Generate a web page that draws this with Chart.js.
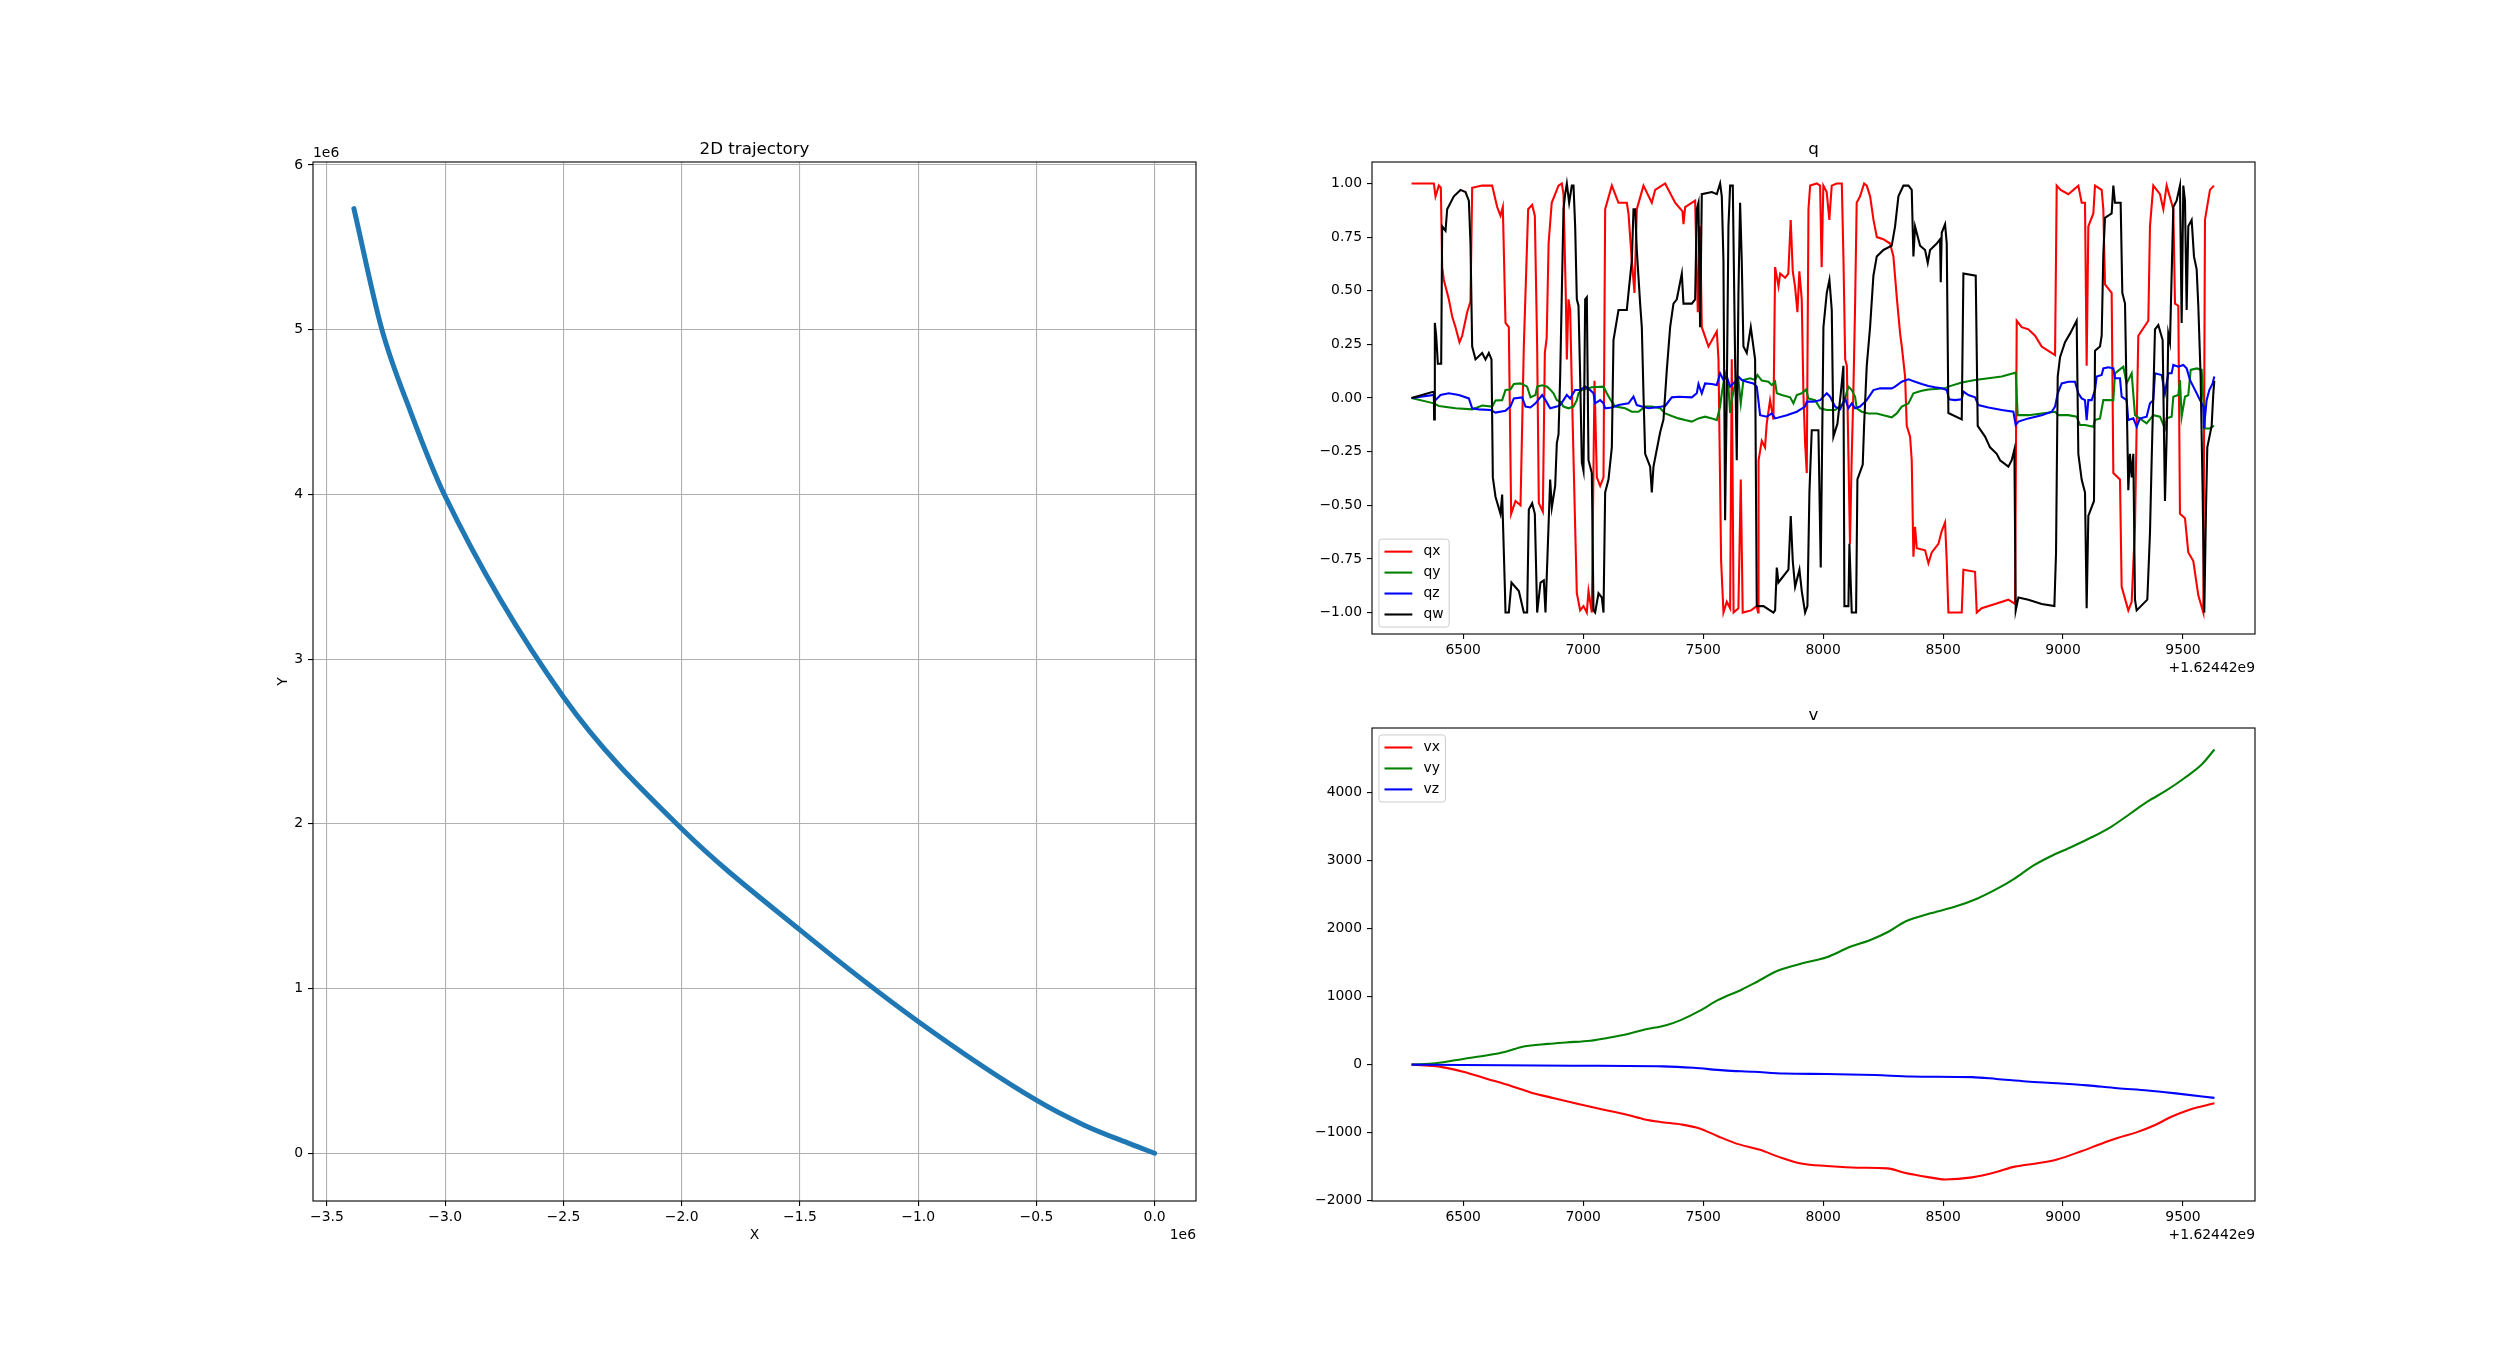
<!DOCTYPE html>
<html>
<head>
<meta charset="utf-8">
<title>2D trajectory, q, v</title>
<script src="https://cdn.jsdelivr.net/npm/chart.js@4.4.1/dist/chart.umd.min.js"></script>
<style>
  html, body { margin: 0; padding: 0; background: #fff; }
  #fig { position: relative; width: 2505px; height: 1349px; overflow: hidden; background: #fff; }
  .panel { position: absolute; }
</style>
</head>
<body>
<div id="fig">
  <div class="panel" id="trajBox"><canvas id="trajChart"></canvas></div>
  <div class="panel" id="qBox"><canvas id="qChart"></canvas></div>
  <div class="panel" id="vBox"><canvas id="vChart"></canvas></div>
</div>
<script>
// time values below are seconds minus 1.62442e9 (the axis offset text)
const TIME_OFFSET_TEXT = '+1.62442e9';

// 2D trajectory, [x, y] in metres
const trajectory = [
  [-3386000, 5735000], [-3267500, 5000000], [-3146000, 4500000], [-3004000, 4000000],
  [-2500000, 2770000], [-2000000, 1970000], [-1500000, 1356000], [-1000000, 800000],
  [-500000, 322000], [-300000, 172000], [-100000, 55000], [0, 0]
];

// quaternion components, [t, value]
const qx = [
  [6284.7,1.00],[6377.7,1.00],[6384.7,0.94],[6398.6,0.99],[6406.9,0.98],[6412.5,0.61],[6419.4,0.55],[6433.3,0.49],
  [6440.2,0.46],[6454.1,0.38],[6468,0.33],[6484.7,0.26],[6495.8,0.29],[6516.6,0.40],[6530.5,0.45],[6537.5,0.98],
  [6579.1,0.99],[6620.8,0.99],[6641.6,0.89],[6655.5,0.85],[6665.2,0.89],[6676.4,0.35],[6690.2,0.33],[6700,-0.54],
  [6718,-0.48],[6738.9,-0.50],[6752.7,0.24],[6770.8,0.88],[6787.5,0.90],[6798.6,0.85],[6808.3,0.24],[6815.2,-0.49],
  [6832,-0.53],[6840.3,0.21],[6848,0.28],[6856,0.72],[6869,0.91],[6897.3,0.99],[6911.1,1.00],[6918.1,0.95],
  [6927.8,0.47],[6932,0.18],[6938.9,0.46],[6945.9,0.41],[6952.8,0.05],[6966.7,-0.60],[6973.6,-0.91],[6987.5,-0.99],
  [7001.4,-0.97],[7015.3,-1.00],[7022.3,-0.90],[7036.1,-1.00],[7047.3,0.08],[7057,-0.37],[7070.9,-0.41],[7084.8,-0.37],
  [7091.7,0.88],[7119.5,0.99],[7147.3,0.91],[7182,0.91],[7189,0.86],[7202.8,0.64],[7214,0.49],[7223.6,0.88],
  [7251.4,0.99],[7286.1,0.91],[7300,0.97],[7341.7,1.00],[7383.4,0.91],[7414,0.87],[7418.1,0.81],[7425,0.89],
  [7466.7,0.92],[7477.8,0.40],[7487.5,0.80],[7494.5,0.33],[7522.3,0.24],[7557,0.31],[7564,0.18],[7575,-0.76],
  [7584.8,-1.00],[7598.6,-0.95],[7612.5,-0.98],[7619.4,0.18],[7627,-1.00],[7647,-0.98],[7656.9,-0.38],[7665,-1.00],
  [7700,-0.99],[7723,-0.97],[7729,-1.00],[7731,-0.29],[7744.4,-0.20],[7758,-0.23],[7765,-0.12],[7779,-0.01],
  [7793,-0.10],[7800,0.61],[7814,0.52],[7821,0.58],[7841.6,0.56],[7855,0.58],[7865,0.83],[7873.6,0.59],
  [7883,0.52],[7893,0.40],[7901,0.59],[7911,0.46],[7918,0.02],[7925,-0.21],[7932,-0.35],[7939,0.88],
  [7946,0.99],[7973.6,1.00],[7987.5,0.99],[7994,0.61],[8001,0.99],[8015,0.96],[8026,0.83],[8036,0.99],
  [8057,1.00],[8078,1.00],[8085,0.64],[8092,0.18],[8099,0.15],[8106,-0.29],[8112,-0.68],[8119,-0.29],
  [8126,0.02],[8133,0.41],[8140,0.91],[8154,0.94],[8171,1.00],[8182,0.99],[8196,0.94],[8210,0.83],
  [8224,0.75],[8251,0.74],[8279,0.72],[8293,0.66],[8307,0.47],[8321,0.30],[8328,0.24],[8341.7,0.10],
  [8348.6,-0.13],[8362.5,-0.18],[8369.4,-0.29],[8376.4,-0.74],[8383.3,-0.60],[8390.3,-0.70],[8425,-0.71],[8438.9,-0.77],
  [8452.8,-0.72],[8480.6,-0.68],[8494.4,-0.62],[8508.3,-0.58],[8515.3,-0.76],[8522.2,-1.00],[8577.8,-1.00],[8584.7,-0.80],
  [8633.3,-0.81],[8640.3,-1.00],[8661,-0.98],[8716.7,-0.96],[8772.2,-0.94],[8800,-0.96],[8807,0.36],[8827.8,0.33],
  [8855.6,0.32],[8883.3,0.29],[8911,0.24],[8938.9,0.22],[8966.7,0.20],[8973.6,0.99],[8990,0.97],[9022,0.95],
  [9063.7,0.99],[9077.6,0.91],[9091.5,0.91],[9098.4,0.15],[9105.4,0.80],[9126.2,0.86],[9133.2,0.99],[9161,0.97],
  [9167.9,0.88],[9174.8,0.53],[9202.6,0.49],[9209.6,-0.35],[9237.3,-0.38],[9244.3,-0.88],[9272,-0.99],[9286,-0.95],
  [9299.8,-0.60],[9306.8,-0.13],[9313.7,0.29],[9355.4,0.36],[9362.3,0.80],[9376.2,0.99],[9404,0.95],[9417.9,0.88],
  [9431.8,0.99],[9459.6,0.88],[9466.5,0.44],[9480.4,0.43],[9487.3,-0.54],[9508.2,-0.56],[9522,-0.72],[9542.9,-0.76],
  [9563.7,-0.92],[9584.6,-1.00],[9591.5,0.83],[9612.3,0.97],[9629,0.99]
];
const qy = [
  [6284.7,0],[6377.7,-0.025],[6398.6,-0.037],[6468,-0.048],[6537.5,-0.053],[6579,-0.035],[6620.8,-0.04],[6634.7,-0.012],
  [6662.5,-0.01],[6676.4,0.037],[6697,0.04],[6711,0.065],[6738.9,0.068],[6766.6,0.053],[6780.5,0.003],[6801.3,0.014],
  [6808.3,0.053],[6829,0.059],[6850,0.053],[6862,0.04],[6876.4,0.022],[6890.3,-0.01],[6904.2,-0.017],[6918,-0.04],
  [6938.9,-0.048],[6959.8,-0.04],[6973.6,-0.01],[6980.6,0.022],[6994.5,0.037],[7036,0.05],[7084.8,0.053],[7098.6,0.022],
  [7112.5,-0.006],[7133.3,-0.04],[7175,-0.048],[7202.8,-0.064],[7230.6,-0.064],[7258.4,-0.04],[7286,-0.04],[7320.9,-0.048],
  [7341.7,-0.072],[7369.4,-0.084],[7397.2,-0.095],[7425,-0.103],[7452.8,-0.11],[7480.6,-0.095],[7508.3,-0.087],[7536,-0.095],
  [7557,-0.103],[7570.8,-0.04],[7577.7,0.022],[7591.6,0.115],[7605.5,0.053],[7612.5,-0.07],[7619.4,-0.01],[7633.3,0.068],
  [7647.2,0.084],[7656.9,-0.025],[7668,0.084],[7695.8,0.092],[7716.6,0.084],[7726.4,0.107],[7744.4,0.081],[7772.2,0.076],
  [7786,0.06],[7800,0.076],[7806.9,0.022],[7827.7,0.014],[7862.5,0.003],[7876.4,-0.025],[7890.3,0.014],[7911.1,0.022],
  [7929.1,0.04],[7938.9,-0.002],[7966.6,-0.01],[7987.5,-0.048],[8015.3,-0.056],[8050,-0.056],[8084.7,-0.025],[8105.5,0.053],
  [8119.4,0.037],[8133.3,0.006],[8140.3,-0.048],[8161.1,-0.064],[8188.9,-0.072],[8223.6,-0.072],[8251.4,-0.08],[8286,-0.09],
  [8306.9,-0.072],[8327.8,-0.04],[8355.6,-0.025],[8376.4,0.022],[8411,0.034],[8439,0.04],[8508.3,0.045],[8522,0.053],
  [8577.8,0.072],[8633.3,0.084],[8688.9,0.092],[8744.4,0.1],[8793,0.115],[8802.8,0.118],[8811,-0.08],[8855.6,-0.08],
  [8911,-0.072],[8966.7,-0.064],[8980.6,-0.08],[9022,-0.08],[9056.8,-0.087],[9070.7,-0.126],[9091.5,-0.126],[9126.2,-0.134],
  [9133.2,-0.103],[9154,-0.095],[9167.9,-0.01],[9209.6,-0.01],[9216.5,0.115],[9251.2,0.146],[9265,0.068],[9286,0.115],
  [9299.8,-0.08],[9348.5,-0.118],[9376.2,-0.08],[9404,-0.087],[9424.8,-0.142],[9431.8,-0.095],[9452.6,-0.087],[9459.6,0.006],
  [9480.4,0.014],[9487.3,0.084],[9494.3,-0.087],[9508.2,0.006],[9522,0.014],[9531.8,0.131],[9556.8,0.138],[9577.6,0.131],
  [9584.6,-0.01],[9591.5,-0.142],[9612.3,-0.142],[9629,-0.129]
];
const qz = [
  [6284.7,0],[6377.7,0.014],[6384.7,-0.01],[6405.5,0.014],[6440,0.022],[6482,0.014],[6523.6,-0.002],[6537.5,-0.048],
  [6565,-0.053],[6614,-0.056],[6634.7,-0.068],[6676.4,-0.059],[6697,-0.04],[6711,-0.002],[6745.8,0.003],[6759.7,-0.04],
  [6780.5,-0.044],[6801.3,-0.025],[6829,0.014],[6843,-0.01],[6862.5,-0.048],[6890.3,-0.04],[6904.2,-0.033],[6918.1,-0.01],
  [6932,0.014],[6945.9,-0.002],[6966.7,0.037],[6987.5,0.037],[7008.4,0.053],[7029.2,0.037],[7043.1,0.022],[7050,-0.025],
  [7070.9,-0.01],[7084.8,-0.025],[7091.7,-0.048],[7119.5,-0.044],[7147.3,-0.033],[7189,-0.025],[7209.8,0.006],[7223.6,-0.033],
  [7244.5,-0.04],[7272.2,-0.048],[7300,-0.044],[7327.8,-0.04],[7341.7,-0.037],[7369.4,0.003],[7397.2,0.006],[7452.8,0.003],
  [7473.6,0.022],[7480.6,0.065],[7494.5,0.022],[7508.3,0.068],[7536.1,0.065],[7557,0.06],[7570.8,0.115],[7584.7,0.084],
  [7598.6,0.1],[7612.5,0.053],[7633.3,0.076],[7647.2,0.1],[7661,0.084],[7681.9,0.076],[7709.7,0.068],[7723.6,0.053],
  [7737.5,-0.08],[7765.2,-0.087],[7786,-0.072],[7800,-0.095],[7848.6,-0.08],[7890.3,-0.064],[7925,-0.04],[7932,-0.017],
  [7959.7,-0.017],[7987.5,-0.01],[8015.3,0.022],[8029.1,0.006],[8050,-0.04],[8070.8,-0.053],[8091.7,-0.002],[8105.5,-0.048],
  [8119.4,-0.025],[8133.3,-0.048],[8154.1,-0.04],[8181.9,-0.01],[8209.7,0.037],[8237.5,0.045],[8286.1,0.045],[8300,0.053],
  [8327.8,0.076],[8355.6,0.087],[8383.3,0.076],[8411.1,0.065],[8438.9,0.056],[8466.7,0.05],[8494.4,0.045],[8515.3,0.037],
  [8525,-0.006],[8550,-0.01],[8577.8,-0.006],[8584.7,0.03],[8605.6,0.014],[8633.3,0.003],[8647.2,-0.033],[8688.9,-0.044],
  [8744.4,-0.056],[8793,-0.064],[8802.8,-0.126],[8813.9,-0.11],[8855.6,-0.095],[8911.1,-0.08],[8952.8,-0.064],[8966.7,-0.04],
  [8977.8,0.022],[8994.4,0.068],[9022.2,0.076],[9049.8,0.076],[9063.7,0.022],[9077.6,-0.002],[9091.5,-0.01],[9098.4,-0.103],
  [9105.4,-0.01],[9119.3,-0.01],[9133.2,0.037],[9140.1,0.1],[9161,0.107],[9167.9,0.138],[9188.7,0.143],[9209.6,0.138],
  [9216.5,0.092],[9237.3,0.092],[9244.3,0.006],[9265.1,-0.01],[9272,-0.103],[9292.9,-0.095],[9306.8,-0.134],[9320.7,-0.095],
  [9348.4,-0.087],[9362.3,-0.025],[9376.2,-0.01],[9383.2,0.115],[9411,0.107],[9424.8,0.022],[9438.7,0.115],[9452.6,0.115],
  [9459.6,0.154],[9480.4,0.146],[9501.2,0.154],[9515.1,0.138],[9529,0.084],[9542.9,0.053],[9556.8,0.022],[9570.7,-0.01],
  [9584.6,-0.04],[9587.3,-0.142],[9598.4,-0.01],[9609.6,0.037],[9623.4,0.068],[9630.4,0.1]
];
const qw = [
  [6284.7,0.0],[6377.7,0.03],[6379,-0.10],[6381.9,0.35],[6387.5,0.29],[6394.4,0.16],[6408.3,0.16],[6412.5,0.80],
  [6426.4,0.78],[6433.3,0.88],[6461.1,0.94],[6488.9,0.97],[6509.7,0.96],[6523.6,0.92],[6530.5,0.72],[6537.5,0.24],
  [6551.4,0.18],[6579.1,0.21],[6593,0.18],[6606.9,0.21],[6618,0.18],[6623.6,-0.37],[6634.7,-0.46],[6655.5,-0.54],
  [6662.5,-0.45],[6673.6,-0.88],[6676.4,-1.00],[6690.2,-1.00],[6701.3,-0.86],[6731.9,-0.90],[6752.7,-1.00],[6766.6,-1.00],
  [6773.6,-0.52],[6787.5,-0.49],[6798.6,-0.54],[6808.3,-1.00],[6822.2,-0.86],[6836,-0.85],[6843,-1.00],[6855.6,-0.60],
  [6862.5,-0.38],[6869.5,-0.51],[6883.4,-0.41],[6890.3,-0.21],[6897.3,-0.17],[6904.2,0.10],[6911.1,0.49],[6918.1,0.88],
  [6925,0.95],[6932,1.00],[6941.7,0.91],[6952.8,0.99],[6959.8,0.99],[6966.7,0.80],[6973.6,0.46],[6980.6,0.43],
  [6987.5,0.10],[6994.5,-0.30],[7001.4,-0.34],[7008.4,0.46],[7015.3,0.47],[7022.3,-0.29],[7036.1,-0.35],[7043.1,-0.99],
  [7050,-1.00],[7064,-0.91],[7077.8,-0.93],[7084.8,-1.00],[7091.7,-0.44],[7105.6,-0.38],[7119.5,-0.23],[7126.4,0.27],
  [7147.3,0.41],[7182,0.41],[7189,0.49],[7202.8,0.64],[7209.8,0.88],[7216.7,0.88],[7223.6,0.69],[7237.5,0.44],
  [7244.5,0.33],[7251.4,0.02],[7258.4,-0.26],[7279.2,-0.32],[7286.1,-0.44],[7293.1,-0.32],[7320.9,-0.16],[7334.8,-0.10],
  [7348.6,0.13],[7362.5,0.33],[7376.4,0.44],[7390.3,0.46],[7411.2,0.58],[7418.1,0.44],[7452.8,0.44],[7466.7,0.46],
  [7473.6,0.88],[7480.6,0.91],[7487.5,0.33],[7494.5,0.95],[7536.1,0.96],[7557,0.95],[7570.8,1.00],[7577.8,0.94],
  [7584.7,0.64],[7591.6,-0.57],[7598.6,0.02],[7605.5,0.80],[7612.5,0.99],[7623.6,0.99],[7633.3,0.18],[7640.2,-0.29],
  [7647.2,0.49],[7654.1,0.91],[7661,0.64],[7668,0.24],[7681.9,0.21],[7698.6,0.33],[7716.6,0.18],[7723.6,-0.97],
  [7751.4,-0.97],[7793,-1.00],[7800,-0.99],[7807,-0.79],[7813.9,-0.86],[7855.5,-0.80],[7865.2,-0.55],[7873.6,-0.76],
  [7883.3,-0.88],[7901.4,-0.80],[7911.1,-0.90],[7925,-1.00],[7934.7,-0.97],[7943,-0.44],[7952.7,-0.15],[7980.5,-0.15],
  [7990.2,-0.79],[8001.4,0.33],[8015.3,0.49],[8026.4,0.55],[8036.1,0.41],[8043,-0.18],[8059.7,-0.12],[8073.6,0.02],
  [8084.7,0.15],[8088.9,-0.97],[8105.5,-0.97],[8109.7,-0.68],[8119.4,-1.00],[8137.5,-1.00],[8143,-0.38],[8165.2,-0.31],
  [8170.8,-0.13],[8181.9,0.15],[8195.8,0.33],[8209.7,0.57],[8223.6,0.66],[8251.4,0.69],[8286.1,0.71],[8300,0.80],
  [8313.9,0.94],[8334.7,0.99],[8355.6,0.99],[8369.4,0.97],[8376.4,0.66],[8383.3,0.80],[8404.2,0.71],[8425,0.69],
  [8436.1,0.63],[8445.8,0.69],[8473.6,0.72],[8487.5,0.74],[8490.3,0.54],[8494.4,0.77],[8508.3,0.81],[8515.3,0.72],
  [8522.2,-0.07],[8577.8,-0.10],[8584.7,0.58],[8636.1,0.57],[8644.4,-0.13],[8675,-0.18],[8695.8,-0.23],[8723.6,-0.26],
  [8737.5,-0.29],[8772.2,-0.32],[8786.1,-0.29],[8797.2,-0.24],[8802.8,-0.99],[8813.9,-0.93],[8855.6,-0.94],[8911.1,-0.96],
  [8963.9,-0.97],[8970.8,-0.72],[8977.8,0.10],[8987.5,0.19],[9008.3,0.26],[9029,0.30],[9056.8,0.36],[9063.7,-0.26],
  [9077.6,-0.38],[9091.5,-0.44],[9098.4,-0.98],[9105.4,-0.55],[9129,-0.48],[9133.2,0.22],[9154,0.24],[9161,0.29],
  [9167.9,0.67],[9174.8,0.84],[9202.6,0.86],[9209.6,0.99],[9216.5,0.91],[9240.1,0.91],[9247,0.49],[9258.2,0.44],
  [9272,-0.43],[9279,-0.26],[9286,-0.37],[9292.9,-0.26],[9299.8,-0.94],[9306.8,-0.99],[9351.2,-0.94],[9362.3,-0.63],
  [9369.3,-0.29],[9383.2,0.32],[9397,0.34],[9415.1,0.27],[9424.8,-0.48],[9431.8,-0.18],[9438.7,0.30],[9445.7,0.26],
  [9459.6,0.89],[9473.4,0.92],[9487.3,0.99],[9494.3,0.35],[9501.2,0.99],[9508.2,0.92],[9515.1,0.41],[9522,0.80],
  [9536,0.83],[9545.7,0.66],[9556.8,0.60],[9563.7,0.43],[9573.4,0.10],[9581.8,-0.44],[9588.7,-1.00],[9595.7,-0.52],
  [9601.2,-0.23],[9619.3,-0.13],[9626.2,0.02],[9630.4,0.08]
];

// velocity components, [t, value]
const vx = [
  [6285,0],[6412,-37],[6500,-105],[6601,-210],[6702,-316],[6778,-405],[6879,-494],[6980,-579],[7081,-658],
  [7182,-736],[7257,-805],[7321,-842],[7409,-879],[7485,-937],[7561,-1052],[7636,-1157],[7737,-1252],[7813,-1352],
  [7914,-1457],[8015,-1489],[8141,-1515],[8268,-1525],[8343,-1594],[8444,-1657],[8507,-1688],[8621,-1657],[8722,-1578],
  [8798,-1499],[8899,-1446],[8975,-1394],[9076,-1273],[9151,-1173],[9227,-1078],[9303,-999],[9379,-894],[9454,-763],
  [9530,-658],[9631,-568]
];
const vy = [
  [6285,0],[6386,20],[6500,84],[6601,137],[6677,190],[6752,268],[6854,305],[6929,326],[7030,352],[7106,395],
  [7182,447],[7257,515],[7346,579],[7409,658],[7485,789],[7561,947],[7662,1105],[7712,1194],[7813,1383],[7914,1489],
  [8015,1578],[8116,1736],[8192,1825],[8268,1946],[8343,2104],[8444,2220],[8545,2315],[8646,2446],[8722,2578],
  [8798,2735],[8874,2920],[8949,3062],[9025,3183],[9126,3352],[9202,3499],[9278,3683],[9353,3867],[9429,4025],
  [9505,4209],[9580,4419],[9631,4631]
];
const vz = [
  [6285,0],[6500,-5],[6955,-16],[7333,-26],[7459,-47],[7586,-84],[7712,-105],[7838,-131],[8015,-137],[8217,-153],
  [8369,-174],[8621,-184],[8722,-210],[8848,-247],[8975,-274],[9101,-305],[9227,-347],[9353,-379],[9479,-426],[9631,-489]
];

// tick values
const trajXTicks = [-3.5e6, -3e6, -2.5e6, -2e6, -1.5e6, -1e6, -0.5e6, 0];
const trajYTicks = [0, 1e6, 2e6, 3e6, 4e6, 5e6, 6e6];
const timeTicks = [6500, 7000, 7500, 8000, 8500, 9000, 9500];
const qTicks = [-1, -0.75, -0.5, -0.25, 0, 0.25, 0.5, 0.75, 1];
const vTicks = [-2000, -1000, 0, 1000, 2000, 3000, 4000];

const FONT = '"DejaVu Sans", sans-serif';
const FS = 13.9;
const Y_AXIS_W = 70;
const X_AXIS_H = 50;
Chart.defaults.font.family = FONT;
Chart.defaults.font.size = FS;
Chart.defaults.color = '#000';

// matplotlib style number with a real minus sign
function fmt(v, digits) {
  const s = Math.abs(v).toFixed(digits);
  return (v < 0 && Number(s) !== 0 ? '\u2212' : '') + s;
}
const toPoints = rows => rows.map(r => ({ x: r[0], y: r[1] }));

function drawLegend(ctx, a, sets, corner) {
  const pad = 0.4 * FS, handle = 2 * FS, gap = 0.8 * FS, rowH = 14, space = 0.5 * FS, inset = 0.5 * FS;
  ctx.font = FS + 'px ' + FONT;
  const tw = Math.max(...sets.map(s => ctx.measureText(s.label).width));
  const w = pad + handle + gap + tw + pad;
  const h = 2 * pad + sets.length * rowH + (sets.length - 1) * space;
  const x0 = a.left + inset;
  const y0 = corner === 'upper' ? a.top + inset : a.bottom - inset - h;
  ctx.beginPath();
  if (ctx.roundRect) ctx.roundRect(x0, y0, w, h, 3); else ctx.rect(x0, y0, w, h);
  ctx.fillStyle = 'rgba(255,255,255,0.8)';
  ctx.fill();
  ctx.strokeStyle = '#cccccc';
  ctx.lineWidth = 1;
  ctx.stroke();
  sets.forEach((s, i) => {
    const cy = y0 + pad + i * (rowH + space) + rowH / 2;
    ctx.beginPath();
    ctx.moveTo(x0 + pad, cy);
    ctx.lineTo(x0 + pad + handle, cy);
    ctx.strokeStyle = s.borderColor;
    ctx.lineWidth = 2.08;
    ctx.stroke();
    ctx.fillStyle = '#000';
    ctx.textAlign = 'left';
    ctx.textBaseline = 'middle';
    ctx.fillText(s.label, x0 + pad + handle + gap, cy);
  });
}

// spines, titles, offset texts, axis labels and legend, like matplotlib
const decorate = {
  id: 'decorate',
  afterDraw(chart, args, o) {
    const ctx = chart.ctx, a = chart.chartArea;
    ctx.save();
    ctx.strokeStyle = '#000';
    ctx.lineWidth = 1.1;
    ctx.strokeRect(a.left, a.top, a.right - a.left, a.bottom - a.top);
    ctx.fillStyle = '#000';
    ctx.textBaseline = 'alphabetic';
    ctx.font = '16.7px ' + FONT;
    ctx.textAlign = 'center';
    ctx.fillText(o.title, (a.left + a.right) / 2, a.top - 8.3);
    ctx.font = FS + 'px ' + FONT;
    if (o.xOffset) { ctx.textAlign = 'right'; ctx.fillText(o.xOffset, a.right, a.bottom + 38); }
    if (o.yOffset) { ctx.textAlign = 'left'; ctx.fillText(o.yOffset, a.left, a.top - 4.7); }
    if (o.xLabel) { ctx.textAlign = 'center'; ctx.fillText(o.xLabel, (a.left + a.right) / 2, a.bottom + 38); }
    if (o.yLabel) {
      ctx.save();
      ctx.translate(a.left - 26.5, (a.top + a.bottom) / 2);
      ctx.rotate(-Math.PI / 2);
      ctx.textAlign = 'center';
      ctx.fillText(o.yLabel, 0, 0);
      ctx.restore();
    }
    if (o.legend) drawLegend(ctx, a, chart.data.datasets, o.legend);
    ctx.restore();
  }
};

function scale(min, max, tickVals, label, withGrid, isX) {
  return {
    type: 'linear',
    min: min,
    max: max,
    afterBuildTicks: s => { s.ticks = tickVals.map(v => ({ value: v })); },
    afterFit: s => { if (isX) s.height = X_AXIS_H; else s.width = Y_AXIS_W; },
    ticks: { callback: v => label(v), autoSkip: false, maxRotation: 0, minRotation: 0, padding: isX ? 3 : 5, color: '#000' },
    grid: { drawOnChartArea: withGrid, color: '#b0b0b0', lineWidth: 1.1, drawTicks: true, tickLength: 5, tickColor: '#000', tickWidth: 1.1 },
    border: { display: false }
  };
}

function makeChart(canvasId, box, area, datasets, scales, deco) {
  const canvas = document.getElementById(canvasId);
  const wrap = canvas.parentNode;
  wrap.style.left = box.l + 'px';
  wrap.style.top = box.t + 'px';
  wrap.style.width = box.w + 'px';
  wrap.style.height = box.h + 'px';
  return new Chart(canvas, {
    type: 'line',
    data: { datasets: datasets },
    options: {
      responsive: true,
      maintainAspectRatio: false,
      animation: false,
      events: [],
      layout: {
        padding: {
          left: area.l - box.l - Y_AXIS_W,
          top: area.t - box.t,
          right: box.l + box.w - area.r,
          bottom: box.t + box.h - area.b - X_AXIS_H
        }
      },
      elements: { point: { radius: 0 } },
      plugins: { legend: { display: false }, tooltip: { enabled: false }, decorate: deco },
      scales: scales
    },
    plugins: [decorate]
  });
}

function series(label, rows, color, order, smooth) {
  return {
    label: label,
    data: toPoints(rows),
    borderColor: color,
    backgroundColor: color,
    borderWidth: 2.08,
    pointRadius: 0,
    fill: false,
    order: order,
    cubicInterpolationMode: smooth ? 'monotone' : 'default',
    tension: 0
  };
}

// left: 2D trajectory
makeChart('trajChart',
  { l: 180, t: 100, w: 1070, h: 1200 },
  { l: 313, r: 1196, t: 162, b: 1201 },
  [{
    label: 'trajectory',
    data: toPoints(trajectory),
    borderColor: '#1f77b4',
    backgroundColor: '#1f77b4',
    borderWidth: 5,
    borderCapStyle: 'round',
    borderJoinStyle: 'round',
    pointRadius: 0,
    fill: false,
    cubicInterpolationMode: 'monotone'
  }],
  {
    x: scale(-3.559e6, 0.175e6, trajXTicks, v => fmt(v / 1e6, 1), true, true),
    y: scale(-0.29e6, 6.018e6, trajYTicks, v => fmt(v / 1e6, 0), true, false)
  },
  { title: '2D trajectory', xOffset: '1e6', yOffset: '1e6', xLabel: 'X', yLabel: 'Y' }
);

// right top: quaternion
makeChart('qChart',
  { l: 1250, t: 100, w: 1100, h: 600 },
  { l: 1372, r: 2255, t: 162, b: 634 },
  [
    series('qx', qx, '#ff0000', 4, false),
    series('qy', qy, '#008000', 3, false),
    series('qz', qz, '#0000ff', 2, false),
    series('qw', qw, '#000000', 1, false)
  ],
  {
    x: scale(6120, 9800, timeTicks, v => String(v), false, true),
    y: scale(-1.1, 1.1, qTicks, v => fmt(v, 2), false, false)
  },
  { title: 'q', xOffset: TIME_OFFSET_TEXT, legend: 'lower' }
);

// right bottom: velocity
makeChart('vChart',
  { l: 1250, t: 700, w: 1100, h: 600 },
  { l: 1372, r: 2255, t: 728, b: 1201 },
  [
    series('vx', vx, '#ff0000', 3, true),
    series('vy', vy, '#008000', 2, true),
    series('vz', vz, '#0000ff', 1, true)
  ],
  {
    x: scale(6120, 9800, timeTicks, v => String(v), false, true),
    y: scale(-2004, 4947, vTicks, v => fmt(v, 0), false, false)
  },
  { title: 'v', xOffset: TIME_OFFSET_TEXT, legend: 'upper' }
);
</script>
</body>
</html>
